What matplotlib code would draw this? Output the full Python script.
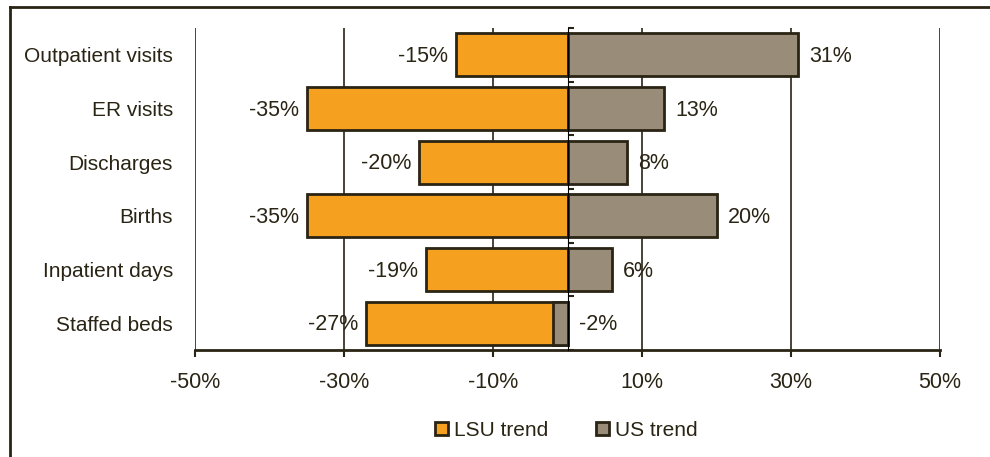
import numpy as np
import matplotlib.pyplot as plt
from matplotlib.lines import Line2D
from matplotlib.patches import Patch

plt.rcParams['font.family'] = ['Liberation Sans', 'DejaVu Sans']

categories = ['Outpatient visits', 'ER visits', 'Discharges', 'Births',
              'Inpatient days', 'Staffed beds']
lsu_trend = [-15, -35, -20, -35, -19, -27]
us_trend = [31, 13, 8, 20, 6, -2]
xticks = [-50, -30, -10, 10, 30, 50]

ink = '#2a2414'
orange = '#f5a01f'
grey = '#998d79'

fig = plt.figure(figsize=(9.9, 4.57), dpi=100)
ax = fig.add_axes([0.197, 0.2341, 0.7525, 0.7046])

y = np.arange(len(categories))[::-1]
h = 0.8

ax.barh(y, lsu_trend, height=h, color=orange, edgecolor=ink, linewidth=2, zorder=3)
ax.barh(y, us_trend, height=h, color=grey, edgecolor=ink, linewidth=2, zorder=4)

# value labels
for yi, v in zip(y, lsu_trend):
    ax.annotate(f'{v}%', (v, yi), xytext=(-5.5, -1.2), textcoords='offset points',
                ha='right', va='center', fontsize=15.5, color=ink, zorder=5)
for yi, v in zip(y, us_trend):
    box = dict(facecolor='white', edgecolor='none', pad=1) if v < 0 else None
    ax.annotate(f'{v}%', (max(v, 0), yi), xytext=(8, -1.2), textcoords='offset points',
                ha='left', va='center', fontsize=15.5, color=ink, zorder=5, bbox=box)

ax.set_xlim(-50, 50)
ax.set_ylim(-0.5, len(categories) - 0.5)
ax.set_xticks(xticks)
ax.set_xticklabels([f'{t}%' for t in xticks])
ax.set_yticks(y)
ax.set_yticklabels(categories)
ax.tick_params(axis='x', length=5, width=1.5, color=ink, pad=11,
               labelsize=15.5, labelcolor=ink)
ax.tick_params(axis='y', length=0, pad=16, labelsize=15, labelcolor=ink)

ax.grid(axis='x', color=ink, linewidth=1.2, zorder=0)
for side in ['top', 'right', 'left']:
    ax.spines[side].set_visible(False)
ax.spines['bottom'].set_color(ink)
ax.spines['bottom'].set_linewidth(2)
ax.set_axisbelow(True)

# category axis at zero with small boundary ticks
zero_ax = ax.secondary_yaxis(0.5)
zero_ax.spines['left'].set_color(ink)
zero_ax.spines['left'].set_linewidth(2.2)
zero_ax.set_yticks(np.arange(len(categories) + 1) - 0.5)
zero_ax.set_yticklabels([])
zero_ax.tick_params(length=4, width=1.5, color=ink)
zero_ax.set_zorder(6)

handles = [Patch(facecolor=orange, edgecolor=ink, linewidth=2),
           Patch(facecolor=grey, edgecolor=ink, linewidth=2)]
fig.legend(handles, ['LSU trend', 'US trend'], loc='center',
           bbox_to_anchor=(0.572, 0.058), ncol=2, frameon=False,
           fontsize=15, labelcolor=ink, handlelength=0.6, handleheight=0.6,
           handletextpad=0.3, columnspacing=2.3)

# outer frame
fig.add_artist(Line2D([0.0096, 0.0096], [0, 0.985], color=ink, linewidth=2,
                      transform=fig.transFigure))
fig.add_artist(Line2D([0.0096, 1], [0.985, 0.985], color=ink, linewidth=2,
                      transform=fig.transFigure))

fig.savefig('out.png', dpi=100)
